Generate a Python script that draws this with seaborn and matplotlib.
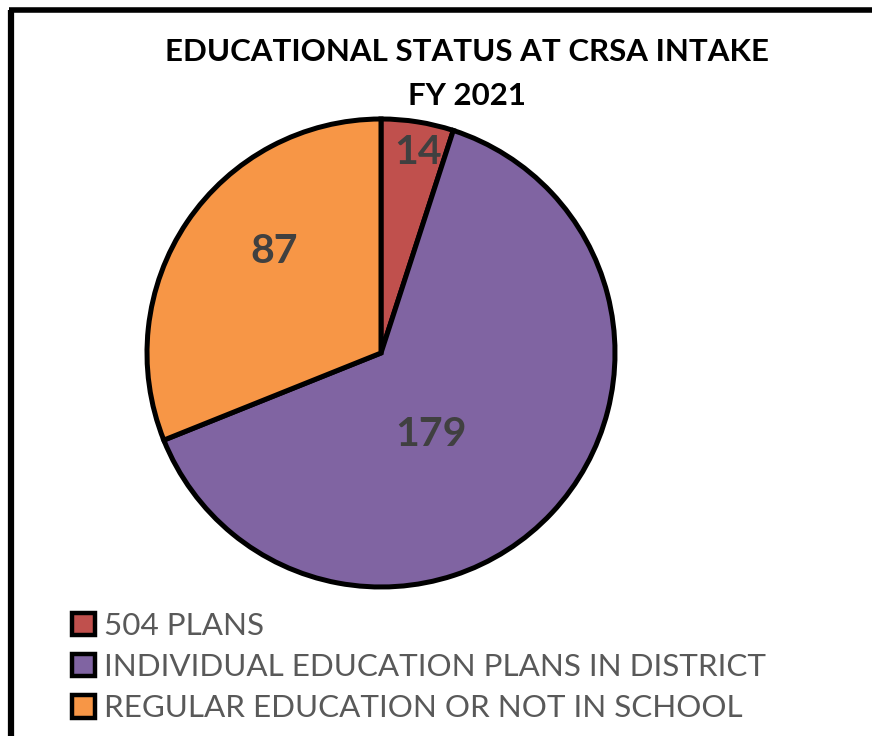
import numpy as np
import matplotlib
matplotlib.use("Agg")
import matplotlib.pyplot as plt
from matplotlib.patches import Patch
from matplotlib.lines import Line2D
import seaborn as sns

sns.set_theme(style="white")
plt.rcParams["font.family"] = ["Lato", "DejaVu Sans"]

# Data
categories = ["504 PLANS",
              "INDIVIDUAL EDUCATION PLANS IN DISTRICT",
              "REGULAR EDUCATION OR NOT IN SCHOOL"]
counts = [14, 179, 87]
colors = ["#C0504D", "#8064A2", "#F79646"]
title = "EDUCATIONAL STATUS AT CRSA INTAKE\nFY 2021"

W, H = 872, 736
fig = plt.figure(figsize=(W / 100, H / 100), dpi=100)
fig.patch.set_facecolor("white")

# Pie axes: centre (381, 353) px, radius 234 px
cx, cy, r = 381, 353, 234
ax = fig.add_axes([(cx - r) / W, 1 - (cy + r) / H, 2 * r / W, 2 * r / H])
wedges, _ = ax.pie(counts, colors=colors, startangle=90, counterclock=False,
                   radius=1.0,
                   wedgeprops=dict(edgecolor="black", linewidth=3.6))
for w in wedges:
    w.set_clip_on(False)
ax.set_xlim(-1, 1)
ax.set_ylim(-1, 1)
ax.set_aspect("equal")
ax.axis("off")

# Value labels placed along each wedge's mid-angle
label_r = [0.87, 0.41, 0.63]
label_shift = [-1.4, -15.6, -9.4]
for w, v, rr, sh in zip(wedges, counts, label_r, label_shift):
    mid = np.deg2rad((w.theta1 + w.theta2) / 2 + sh)
    ax.text(rr * np.cos(mid), rr * np.sin(mid), f"{v}", ha="center",
            va="center", fontsize=29.5, fontweight="bold", color="#404040")

fig.text(467 / W, 1 - 74 / H, title, ha="center", va="center",
         fontsize=22.5, fontweight="bold", color="black", linespacing=1.72)

handles = [Patch(facecolor=c, edgecolor="black", linewidth=3.2) for c in colors]
leg = fig.legend(handles, categories, loc="upper left",
                 bbox_to_anchor=(72 / W, 1 - 612 / H), frameon=False,
                 fontsize=22.6, labelcolor="#595959",
                 handlelength=0.72, handleheight=0.72, handletextpad=0.3,
                 labelspacing=0.42, borderaxespad=0, borderpad=0)

# Frame lines along the left and top edges
fig.add_artist(Line2D([11 / W, 11 / W], [0, 1 - 10 / H], transform=fig.transFigure,
                      color="black", linewidth=4.5, solid_capstyle="butt"))
fig.add_artist(Line2D([8.8 / W, 1], [1 - 10 / H, 1 - 10 / H], transform=fig.transFigure,
                      color="black", linewidth=4.0, solid_capstyle="butt"))

fig.savefig("out.png", dpi=100, facecolor="white")
